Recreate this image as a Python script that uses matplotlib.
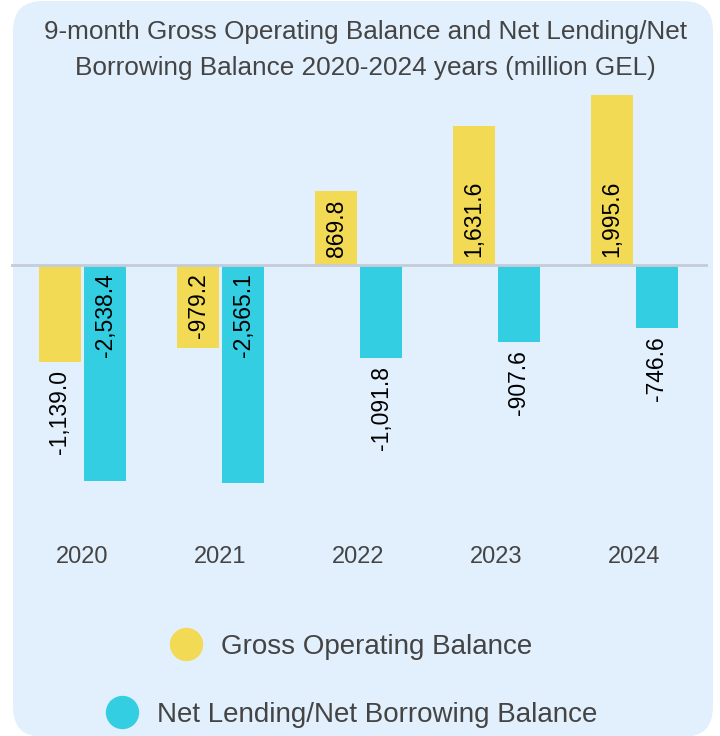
import matplotlib
matplotlib.use('Agg')
import matplotlib.pyplot as plt
import matplotlib.patches as mpatches
from matplotlib.lines import Line2D
from matplotlib.transforms import IdentityTransform
import numpy as np

plt.rcParams['font.family'] = ['Liberation Sans', 'DejaVu Sans']

years = ['2020', '2021', '2022', '2023', '2024']
gross_operating = [-1139.0, -979.2, 869.8, 1631.6, 1995.6]
net_lending = [-2538.4, -2565.1, -1091.8, -907.6, -746.6]
series_names = ['Gross Operating Balance', 'Net Lending/Net Borrowing Balance']

yellow = '#F3DA55'
cyan = '#33CEE2'
bg = '#E2EFFC'
txt = '#444444'

W, H = 720, 736
fig = plt.figure(figsize=(W / 100, H / 100), dpi=100)
fig.patch.set_facecolor('white')

# rounded light-blue card behind everything
card = mpatches.FancyBboxPatch((13, -1), 700, 736,
                               boxstyle='round,pad=0,rounding_size=30',
                               facecolor=bg, edgecolor='none',
                               transform=IdentityTransform(), zorder=-10)
fig.add_artist(card)

fig.text(365 / W, 1 - 39.5 / H, '9-month Gross Operating Balance and Net Lending/Net',
         ha='center', va='baseline', fontsize=18.8, color=txt)
fig.text(365 / W, 1 - 75.5 / H, 'Borrowing Balance 2020-2024 years (million GEL)',
         ha='center', va='baseline', fontsize=18.8, color=txt)

ax_top, ax_bot = 90, 500
ax = fig.add_axes([11 / W, 1 - ax_bot / H, 697 / W, (ax_bot - ax_top) / H])
ax.set_facecolor('none')
scale = 0.085  # px per unit
ax.set_ylim(-(ax_bot - 265) / scale, (265 - ax_top) / scale)
ax.set_xlim(-(82.5 - 11) / 138, 4 + (708 - 634.5) / 138)

x = np.arange(len(years))
bw = 42 / 138
off = 22.5 / 138
b1 = ax.bar(x - off, gross_operating, bw, color=yellow, zorder=2)
b2 = ax.bar(x + off, net_lending, bw, color=cyan, zorder=2)
ax.axhline(0, color='#C3CCD8', lw=2, zorder=3)

for s in ax.spines.values():
    s.set_visible(False)
ax.set_yticks([])
ax.set_xticks(x, years)
ax.tick_params(axis='x', length=0, pad=33, labelsize=17, labelcolor=txt)

# value labels: inside at the base when they fit, otherwise past the bar end
renderer = fig.canvas.get_renderer()
pad = 5.76  # 8 px in points
for bars, vals in [(b1, gross_operating), (b2, net_lending)]:
    for rect, v in zip(bars, vals):
        cx = rect.get_x() + rect.get_width() / 2
        lab = f'{v:,.1f}'
        sgn = 1 if v >= 0 else -1
        t = ax.annotate(lab, (cx, 0), xytext=(0, sgn * pad), textcoords='offset points',
                        rotation=90, ha='center', va='bottom' if v >= 0 else 'top',
                        fontsize=16.5, color='black', zorder=4)
        th = t.get_window_extent(renderer).height
        y0 = ax.transData.transform((cx, 0))[1]
        y1 = ax.transData.transform((cx, v))[1]
        if abs(y1 - y0) < th + 14:
            t.xy = (cx, v)
            t.set_va('bottom' if v >= 0 else 'top')

for name, col, cy in [(series_names[0], yellow, 647), (series_names[1], cyan, 715)]:
    h = Line2D([], [], marker='o', ls='', markersize=23, markerfacecolor=col,
               markeredgecolor=col)
    fig.legend([h], [name], loc='center', bbox_to_anchor=(351 / W, 1 - cy / H),
               frameon=False, fontsize=20, labelcolor=txt, borderpad=0,
               borderaxespad=0, handlelength=1.2, handletextpad=0.65)

fig.savefig('out.png', dpi=100)
